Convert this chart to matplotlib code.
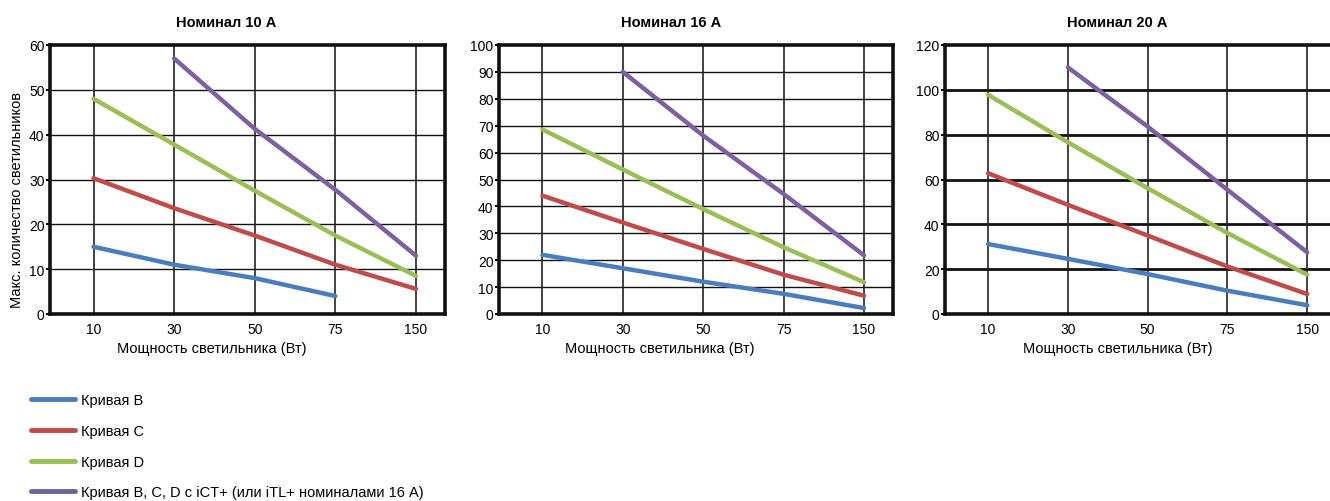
import matplotlib
matplotlib.use("Agg")
import matplotlib.pyplot as plt
from matplotlib.lines import Line2D
import numpy as np

plt.rcParams['font.family'] = ['Liberation Sans', 'DejaVu Sans']

categories = ["10", "30", "50", "75", "150"]
titles = ["Номинал 10 А", "Номинал 16 А", "Номинал 20 А"]
series_names = ["Кривая B", "Кривая C", "Кривая D",
                "Кривая B, C, D с iCT+ (или iTL+ номиналами 16 А)"]
colors = ["#4a7dbf", "#c04b48", "#99bf55", "#7d5fa5"]
legend_colors = ["#4a7dbf", "#c04b48", "#99bf55", "#6a64a0"]

# 10 A
a10_B = [15, 11, 8, 4, None]
a10_C = [30.3, 23.6, 17.5, 11, 5.6]
a10_D = [48, 37.8, 27.5, 17.5, 8.5]
a10_P = [None, 57, 41.3, 27.7, 13]
# 16 A
a16_B = [22, 17, 12, 7.5, 2.2]
a16_C = [44, 34, 24.2, 14.6, 6.8]
a16_D = [68.6, 53.7, 39, 24.8, 11.8]
a16_P = [None, 90, 66.3, 44.6, 21.8]
# 20 A
a20_B = [31.2, 24.6, 17.8, 10.4, 3.9]
a20_C = [62.8, 48.7, 35, 21.2, 8.9]
a20_D = [97.8, 76.6, 56.1, 36.1, 17.5]
a20_P = [None, 110, 83.6, 55.4, 27.5]

data = [[a10_B, a10_C, a10_D, a10_P],
        [a16_B, a16_C, a16_D, a16_P],
        [a20_B, a20_C, a20_D, a20_P]]
yticks = [list(range(0, 61, 10)), list(range(0, 101, 10)), list(range(0, 121, 20))]
ylims = [60, 100, 120]

W, H = 1330, 502
fig = plt.figure(figsize=(W / 100, H / 100), dpi=100)

boxes = [(50, 445), (499, 893), (945, 1336)]
title_cx = [226, 671, 1117]
xlabel_cx = [212, 660, 1118]
top_px, bot_px = 46, 315
hgrid_w = [1.0, 1.0, 2.0]

for i in range(3):
    l, r = boxes[i]
    ax = fig.add_axes([l / W, 1 - bot_px / H, (r - l) / W, (bot_px - top_px) / H])
    x = np.arange(len(categories))
    for s, col in zip(data[i], colors):
        xs = [xi for xi, v in zip(x, s) if v is not None]
        ys = [v for v in s if v is not None]
        ax.plot(xs, ys, color=col, lw=3.2, solid_capstyle='round', zorder=3)
    ax.set_xlim(-0.54, 4.36)
    ax.set_ylim(0, ylims[i])
    ax.set_xticks(x)
    ax.set_xticklabels(categories, fontsize=10)
    ax.set_yticks(yticks[i])
    ax.set_yticklabels([str(t) for t in yticks[i]], fontsize=10)
    ax.tick_params(axis='x', length=0, pad=6)
    ax.tick_params(axis='y', length=3, width=1.5, pad=1)
    for sp in ax.spines.values():
        sp.set_linewidth(2.6)
        sp.set_color('#111111')
    for t in yticks[i][1:-1]:
        ax.axhline(t, color='#111111', lw=hgrid_w[i], zorder=1)
    for xi in x:
        ax.axvline(xi, color='#222222', lw=1.2, zorder=1)
    ax.set_title(titles[i], fontsize=10.5, fontweight='bold', pad=14,
                 x=(title_cx[i] - l) / (r - l))
    ax.set_xlabel("Мощность светильника (Вт)", fontsize=10.5)
    ax.xaxis.set_label_coords((xlabel_cx[i] - l) / (r - l), -0.1, transform=ax.transAxes)
    ax.xaxis.label.set_va('top')
    if i == 0:
        ax.set_ylabel("Макс. количество светильников", fontsize=10.5)
        ax.yaxis.set_label_coords(-0.066, (bot_px - 200) / (bot_px - top_px))

handles = [Line2D([0], [0], color=c, lw=3.5, solid_capstyle='round') for c in legend_colors]
leg = fig.legend(handles, series_names, loc='upper left',
                 bbox_to_anchor=(18 / W, 1 - 381 / H), frameon=False,
                 prop={'size': 10.5},
                 handlelength=3.0, handletextpad=0.4, labelspacing=1.15)

fig.savefig("out.png", dpi=100)
